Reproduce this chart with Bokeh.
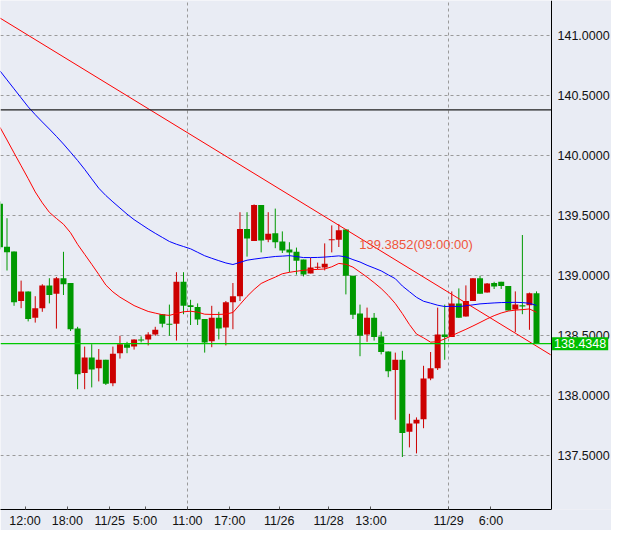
from bokeh.plotting import figure
from bokeh.models import Range1d, FixedTicker, Label, ColumnDataSource, PrintfTickFormatter, BoxAnnotation
from bokeh.embed import file_html
from bokeh.resources import INLINE

# ---------------- data (hourly candles) ----------------
opens = [139.600, 139.243, 139.203, 138.79, 138.87, 138.65, 138.73, 138.92, 138.85, 138.98,
         138.94, 138.56, 138.19, 138.32, 138.23, 138.30, 138.105, 138.355, 138.43, 138.41,
         138.47, 138.47, 138.51, 138.68, 138.60, 138.60, 138.95, 138.755, 138.74, 138.64,
         138.455, 138.65, 138.57, 138.78, 138.83, 139.39, 139.29, 139.59, 139.30, 139.355,
         139.285, 139.22, 139.20, 139.135, 139.02, 139.07, 139.07, 139.30, 139.30, 139.385,
         139.0, 138.685, 138.51, 138.65, 138.495, 138.37, 138.215, 138.30, 137.70, 137.77,
         137.805, 138.145, 138.23, 138.51, 138.49, 138.77, 138.66, 138.79, 138.98, 138.86,
         138.94, 138.95, 138.915, 138.72, 138.755, 138.755, 138.855]
closes = [139.238, 139.197, 138.78, 138.87, 138.64, 138.73, 138.92, 138.84, 138.98, 138.93,
          138.555, 138.18, 138.32, 138.22, 138.30, 138.10, 138.35, 138.43, 138.40, 138.47,
          138.46, 138.51, 138.55, 138.60, 138.595, 138.95, 138.75, 138.74, 138.635, 138.445,
          138.65, 138.56, 138.78, 138.83, 139.39, 139.31, 139.59, 139.295, 139.35, 139.28,
          139.21, 139.195, 139.125, 139.01, 139.07, 139.075, 139.10, 139.305, 139.38, 139.0,
          138.675, 138.50, 138.65, 138.49, 138.365, 138.205, 138.30, 137.69, 137.77, 137.80,
          138.145, 138.23, 138.51, 138.49, 138.77, 138.65, 138.79, 138.98, 138.85, 138.935,
          138.91, 138.915, 138.71, 138.76, 138.745, 138.855, 138.4348]
highs = [139.62, 139.48, 139.203, 138.96, 138.87, 138.83, 138.93, 138.98, 138.99, 139.20,
         138.94, 138.575, 138.41, 138.43, 138.39, 138.30, 138.41, 138.50, 138.45, 138.47,
         138.495, 138.53, 138.575, 138.68, 138.76, 139.03, 139.03, 138.80, 138.77, 138.64,
         138.75, 138.70, 138.79, 138.94, 139.53, 139.53, 139.595, 139.59, 139.53, 139.56,
         139.37, 139.28, 139.235, 139.135, 139.15, 139.11, 139.27, 139.42, 139.43, 139.385,
         139.0, 138.76, 138.735, 138.69, 138.535, 138.37, 138.36, 138.375, 137.85, 137.82,
         138.25, 138.365, 138.735, 138.76, 138.87, 138.895, 138.92, 138.98, 139.00, 138.94,
         138.95, 138.95, 138.915, 138.87, 139.34, 138.86, 138.87]
lows = [139.22, 139.044, 138.75, 138.73, 138.62, 138.61, 138.70, 138.77, 138.56, 138.84,
        138.54, 138.055, 138.055, 138.07, 138.12, 138.09, 138.08, 138.31, 138.355, 138.385,
        138.445, 138.42, 138.50, 138.57, 138.50, 138.46, 138.68, 138.59, 138.59, 138.36,
        138.405, 138.47, 138.42, 138.555, 138.79, 139.16, 139.29, 139.195, 139.28, 139.23,
        139.19, 139.03, 139.01, 138.995, 139.02, 139.055, 139.045, 139.195, 139.24, 138.845,
        138.64, 138.33, 138.45, 138.46, 138.345, 138.155, 137.80, 137.49, 137.57, 137.52,
        137.73, 138.13, 138.215, 138.30, 138.49, 138.65, 138.66, 138.79, 138.85, 138.86,
        138.89, 138.89, 138.71, 138.53, 138.68, 138.55, 138.4348]

ma_fast = [140.238, 140.132, 140.024, 139.917, 139.810, 139.699, 139.608, 139.529, 139.478, 139.430,
           139.359, 139.262, 139.179, 139.096, 139.011, 138.923, 138.866, 138.822, 138.787, 138.752,
           138.727, 138.703, 138.689, 138.676, 138.670, 138.686, 138.700, 138.705, 138.697, 138.680,
           138.678, 138.678, 138.681, 138.694, 138.761, 138.828, 138.886, 138.936, 138.964, 138.989,
           139.017, 139.029, 139.038, 139.046, 139.051, 139.053, 139.057, 139.075, 139.103, 139.096,
           139.072, 139.031, 138.989, 138.943, 138.894, 138.836, 138.769, 138.685, 138.594, 138.515,
           138.483, 138.447, 138.451, 138.474, 138.501, 138.528, 138.554, 138.582, 138.611, 138.641,
           138.668, 138.690, 138.706, 138.714, 138.718, 138.724, 138.696]
ma_slow = [140.708, 140.633, 140.558, 140.483, 140.408, 140.343, 140.282, 140.223, 140.162, 140.098,
           140.030, 139.961, 139.887, 139.808, 139.730, 139.669, 139.616, 139.565, 139.514, 139.468,
           139.429, 139.390, 139.354, 139.320, 139.286, 139.263, 139.244, 139.225, 139.196, 139.167,
           139.146, 139.126, 139.107, 139.094, 139.112, 139.130, 139.139, 139.147, 139.154, 139.161,
           139.164, 139.168, 139.160, 139.152, 139.152, 139.153, 139.156, 139.161, 139.166, 139.158,
           139.135, 139.115, 139.088, 139.065, 139.041, 139.008, 138.976, 138.915, 138.868, 138.821,
           138.788, 138.772, 138.755, 138.744, 138.746, 138.744, 138.750, 138.758, 138.766, 138.770,
           138.774, 138.777, 138.778, 138.779, 138.777, 138.771, 138.753]

trend_idx = [0, 78]
trend_val = [141.148, 138.342]
trend_note = "139.3852(09:00:00)"
trend_note_idx = 50.9
trend_note_price = 139.26

level_price = 140.383
current_price = 138.4348

price_ticks = [137.5, 138.0, 138.5, 139.0, 139.5, 140.0, 140.5, 141.0]
tick_idx = [4, 10, 16, 21, 27, 33, 40, 47, 53, 64, 70]
tick_labels = ["12:00", "18:00", "11/25", "5:00", "11:00", "17:00", "11/26", "11/28", "13:00", "11/29", "6:00"]
vgrid_idx = [27, 64]

# ---------------- layout / styling constants ----------------
BG = "#E9ECF4"
UP = "#CC0000"
DOWN = "#009900"
FONT = "Liberation Sans"
FRAME_W, FRAME_H = 611, 509
PX_PER_BAR = 7.06          # horizontal spacing of bars
BAR0_PX = -0.56            # pixel centre of bar 0
AXIS_PX = 551              # pixel position of the price-axis line
PX_PER_PRICE = 120.0
TOP_PRICE = 141.2942

x_lo = -BAR0_PX / PX_PER_BAR
x_hi = (FRAME_W - BAR0_PX) / PX_PER_BAR
x_edge = (AXIS_PX - BAR0_PX) / PX_PER_BAR
y_hi = TOP_PRICE
y_lo = TOP_PRICE - FRAME_H / PX_PER_PRICE
ONE_PX = 1.0 / PX_PER_PRICE

n = len(opens)
xs = list(range(n))
colors = [UP if c >= o else DOWN for o, c in zip(opens, closes)]
tops = [max(o, c) for o, c in zip(opens, closes)]
bots = [min(o, c) if abs(o - c) >= ONE_PX else max(o, c) - ONE_PX for o, c in zip(opens, closes)]
src = ColumnDataSource(dict(x=xs, top=tops, bottom=bots, high=highs, low=lows, color=colors,
                            fast=ma_fast, slow=ma_slow))

p = figure(frame_width=FRAME_W, frame_height=FRAME_H,
           x_range=Range1d(x_lo, x_hi), y_range=Range1d(y_lo, y_hi),
           y_axis_location="right", output_backend="svg", toolbar_location=None,
           min_border_left=0, min_border_top=0, min_border_right=0, min_border_bottom=20,
           background_fill_color=BG, border_fill_color=BG, outline_line_color=None)

# grids
p.ygrid.ticker = FixedTicker(ticks=price_ticks)
p.ygrid.grid_line_color = "#9A9A9A"
p.ygrid.grid_line_dash = "3 3"
p.xgrid.ticker = FixedTicker(ticks=[i - 0.4 for i in vgrid_idx])
p.xgrid.grid_line_color = "#9A9A9A"
p.xgrid.grid_line_dash = "3 3"

# price-scale panel background (hides grid right of the axis line)
p.add_layout(BoxAnnotation(left=x_edge, fill_color=BG, fill_alpha=1.0, line_color=None, level="underlay"))

# right price axis, drawn at the chart's right edge
ya = p.yaxis[0]
ya.fixed_location = x_edge
ya.ticker = FixedTicker(ticks=price_ticks)
ya.formatter = PrintfTickFormatter(format="%.4f")
ya.major_tick_out = 0
ya.major_tick_in = 0
ya.minor_tick_out = 0
ya.minor_tick_in = 0
ya.axis_line_color = "black"
ya.major_label_standoff = 6
ya.major_label_text_font = FONT
ya.major_label_text_font_size = "12.5px"
ya.major_label_text_color = "#111111"

# bottom time axis
xa = p.xaxis[0]
tick_pos = [i - 0.45 for i in tick_idx]
xa.ticker = FixedTicker(ticks=tick_pos)
xa.major_label_overrides = {pos: lab for pos, lab in zip(tick_pos, tick_labels)}
xa.bounds = (x_lo, x_edge)
xa.major_tick_in = 3
xa.major_tick_out = 0
xa.minor_tick_in = 0
xa.minor_tick_out = 0
xa.axis_line_color = "black"
xa.major_tick_line_color = "#555555"
xa.major_label_standoff = 4
xa.major_label_text_font = FONT
xa.major_label_text_font_size = "12.5px"
xa.major_label_text_color = "#111111"

# candles
p.segment(x0="x", y0="low", x1="x", y1="high", color="color", line_width=1, source=src)
p.vbar(x="x", top="top", bottom="bottom", width=0.85, fill_color="color", line_color=None, source=src)

# moving averages and trend line
p.line(x="x", y="slow", color="#0000FF", line_width=1, source=src)
p.line(x="x", y="fast", color="#FF0000", line_width=1, source=src)
p.line(x=trend_idx, y=trend_val, color="#FF0000", line_width=1)

# horizontal levels (end at the price axis)
p.segment(x0=[x_lo, x_lo], x1=[x_edge, x_edge], y0=[level_price, current_price],
          y1=[level_price, current_price], color=["#1E1E1E", "#00C800"], line_width=1.3)

# annotations
p.add_layout(Label(x=trend_note_idx, y=trend_note_price, text=trend_note, text_color="#F0553A",
                   text_font=FONT, text_font_size="13px", text_baseline="middle", text_align="left"))
p.add_layout(Label(x=x_edge + 0.08, y=current_price, text=f"{current_price:.4f}", text_color="white",
                   text_font=FONT, text_font_size="12.5px", text_baseline="middle", text_align="left",
                   background_fill_color="#00BE00", padding=2))

open("out.html", "w").write(file_html(p, INLINE))
